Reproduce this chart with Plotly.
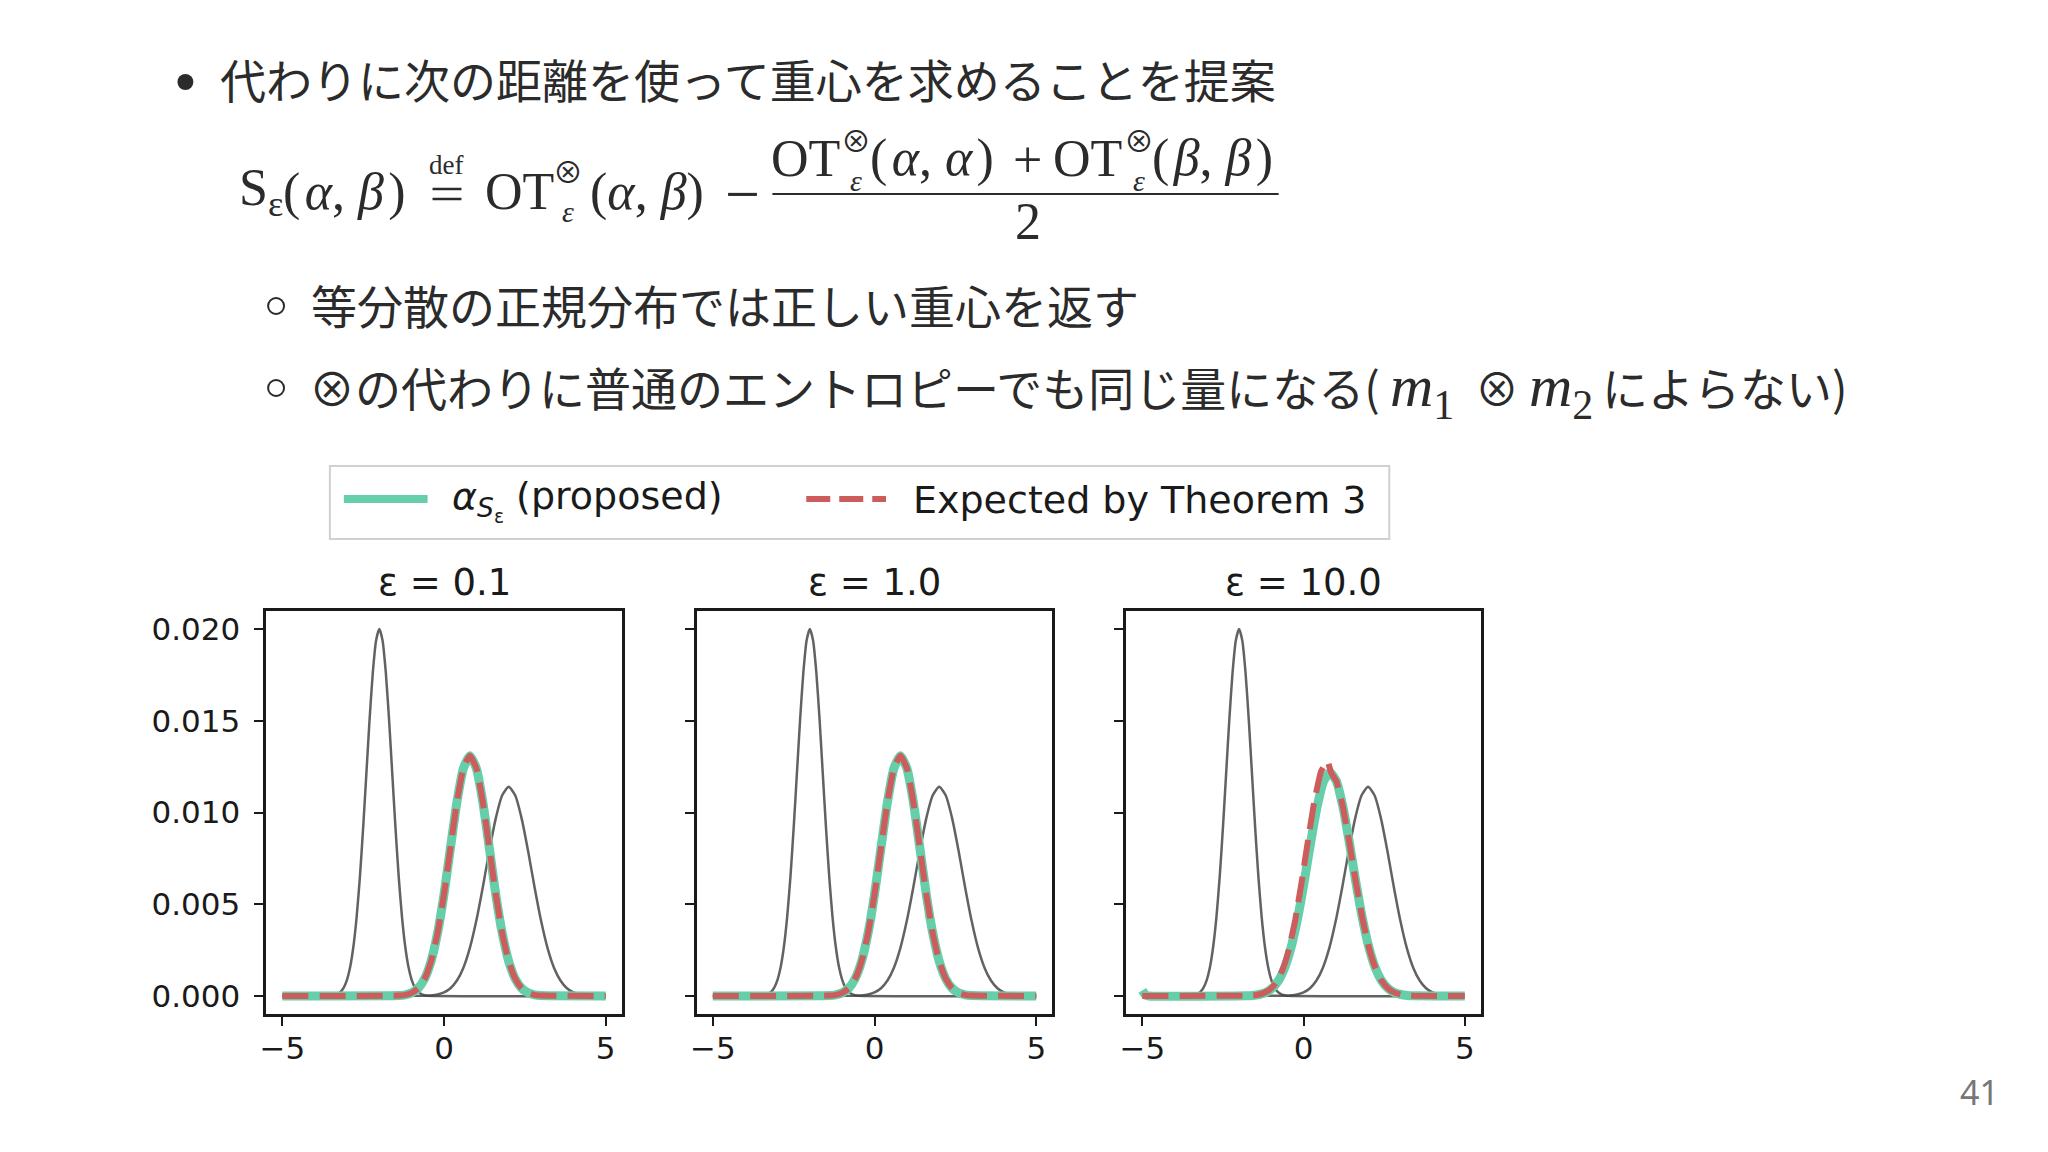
import plotly.graph_objects as go

W, H = 2048, 1152

# ---------------- data ----------------
panel_titles = ["ε = 0.1", "ε = 1.0", "ε = 10.0"]
x_ticks = [-5, 0, 5]
x_tick_text = ["−5", "0", "5"]
y_ticks = [0.0, 0.005, 0.010, 0.015, 0.020]
y_tick_text = ["0.000", "0.005", "0.010", "0.015", "0.020"]

# input measure alpha (narrow peak near -2)
alpha_x = [-5.0, -3.5, -3.4, -3.3, -3.2, -3.1, -3.0, -2.9, -2.8, -2.7, -2.6, -2.5, -2.4, -2.3, -2.2, -2.1,
           -2.0, -1.9, -1.8, -1.7, -1.6, -1.5, -1.4, -1.3, -1.2, -1.1, -1.0, -0.9, -0.8, -0.7, -0.6, -0.5, 5.0]
alpha_y = [0.0, 0.00001, 0.00004, 0.00010, 0.00022, 0.00046, 0.00088, 0.00159, 0.00271, 0.00433, 0.00649,
           0.00916, 0.01213, 0.01510, 0.01765, 0.01938, 0.02000, 0.01938, 0.01765, 0.01510, 0.01213, 0.00916,
           0.00649, 0.00433, 0.00271, 0.00159, 0.00088, 0.00046, 0.00022, 0.00010, 0.00004, 0.00001, 0.0]

# input measure beta (wider peak near 2)
beta_x = [-5.0, -0.6, -0.4, -0.2, 0.0, 0.2, 0.4, 0.6, 0.8, 1.0, 1.2, 1.4, 1.6, 1.8, 2.0, 2.2, 2.4, 2.6, 2.8,
          3.0, 3.2, 3.4, 3.6, 3.8, 4.0, 4.2, 4.4, 4.6, 5.0]
beta_y = [0.0, 0.00001, 0.00003, 0.00008, 0.00019, 0.00042, 0.00084, 0.00154, 0.00262, 0.00411, 0.00593,
          0.00790, 0.00968, 0.01094, 0.01140, 0.01094, 0.00968, 0.00790, 0.00593, 0.00411, 0.00262, 0.00154,
          0.00084, 0.00042, 0.00019, 0.00008, 0.00003, 0.00001, 0.0]

# barycenters, eps = 0.1 and eps = 1.0 (proposed and expected coincide)
bary_x = [-5.0, -1.4, -1.2, -1.0, -0.8, -0.6, -0.4, -0.2, 0.0, 0.2, 0.4, 0.6, 0.8, 1.0, 1.2, 1.4, 1.6, 1.8,
          2.0, 2.2, 2.4, 2.6, 2.8, 3.0, 5.0]
bary_y = [0.0, 0.00002, 0.00006, 0.00017, 0.00042, 0.00094, 0.00189, 0.00342, 0.00554, 0.00808, 0.01057,
          0.01241, 0.01310, 0.01241, 0.01057, 0.00808, 0.00554, 0.00342, 0.00189, 0.00094, 0.00042, 0.00017,
          0.00006, 0.00002, 0.0]

prop01_x, prop01_y = bary_x, bary_y
exp01_x, exp01_y = bary_x, bary_y
prop1_x, prop1_y = bary_x, bary_y
exp1_x, exp1_y = bary_x, bary_y

# eps = 10.0
prop10_x = [-5.0, -4.9, -4.8, -1.78, -1.58, -1.38, -1.18, -0.98, -0.78, -0.58, -0.38, -0.18, 0.02, 0.22,
            0.42, 0.62, 0.82, 1.02, 1.22, 1.42, 1.62, 1.82, 2.02, 2.22, 2.42, 2.62, 2.82, 3.02, 3.22, 3.42, 5.0]
prop10_y = [0.0003, 0.00005, 0.0, 0.00001, 0.00003, 0.00008, 0.00018, 0.00041, 0.00083, 0.00156, 0.00269,
            0.00427, 0.00623, 0.00836, 0.01031, 0.01170, 0.01220, 0.01170, 0.01031, 0.00836, 0.00623, 0.00427,
            0.00269, 0.00156, 0.00083, 0.00041, 0.00018, 0.00008, 0.00003, 0.00001, 0.0]
exp10_x = [-5.0, -1.66, -1.46, -1.26, -1.06, -0.86, -0.66, -0.46, -0.26, -0.06, 0.14, 0.34, 0.54, 0.74,
           0.86, 1.02, 1.22, 1.42, 1.62, 1.82, 2.02, 2.22, 2.42, 2.62, 2.82, 3.02, 3.22, 3.42, 5.0]
exp10_y = [0.0, 0.00002, 0.00005, 0.00014, 0.00033, 0.00070, 0.00139, 0.00250, 0.00412, 0.00620, 0.00851,
           0.01068, 0.01223, 0.01280, 0.01215, 0.01170, 0.01031, 0.00836, 0.00623, 0.00427, 0.00269, 0.00156,
           0.00083, 0.00041, 0.00018, 0.00008, 0.00003, 0.00001, 0.0]

proposed = [(prop01_x, prop01_y), (prop1_x, prop1_y), (prop10_x, prop10_y)]
expected = [(exp01_x, exp01_y), (exp1_x, exp1_y), (exp10_x, exp10_y)]

# ---------------- style ----------------
GREEN = "#66CFAA"
RED = "#CD5C5C"
GRAY = "rgba(70,70,70,0.85)"
TEXT = "#2b2b2b"
JP = "Noto Sans CJK JP"
SERIF = "Liberation Serif"
MPL = "DejaVu Sans"

def px(x):
    return x / W

def py(y):
    return 1 - y / H

fig = go.Figure()

panel_px = [(260, 617), (692, 1049), (1123, 1479)]
y_dom = [py(1014.3), py(610.7)]

for i in range(3):
    xa = "x" if i == 0 else f"x{i+1}"
    ya = "y" if i == 0 else f"y{i+1}"
    common = dict(xaxis=xa, yaxis=ya, mode="lines", showlegend=False, hoverinfo="skip")
    fig.add_trace(go.Scatter(x=alpha_x, y=alpha_y, line=dict(color=GRAY, width=2.5, shape="spline", smoothing=0.6), **common))
    fig.add_trace(go.Scatter(x=beta_x, y=beta_y, line=dict(color=GRAY, width=2.5, shape="spline", smoothing=0.6), **common))
    gx, gy = proposed[i]
    fig.add_trace(go.Scatter(x=gx, y=gy, line=dict(color=GREEN, width=9, shape="spline", smoothing=0.5), **common))
    ex, ey = expected[i]
    fig.add_trace(go.Scatter(x=ex, y=ey, line=dict(color=RED, width=6, dash="26px,11px", shape="spline",
                                                   smoothing=0.5 if i < 2 else 0.3), **common))

    x0, x1 = panel_px[i]
    axis_common = dict(showline=True, linecolor="#1a1a1a", linewidth=2.5, mirror=True, showgrid=False,
                       zeroline=False, ticks="outside", ticklen=9, tickwidth=2, tickcolor="#1a1a1a",
                       tickfont=dict(family=MPL, size=31, color="#1a1a1a"))
    fig.update_layout(**{
        ("xaxis" if i == 0 else f"xaxis{i+1}"): dict(domain=[px(x0), px(x1)], range=[-5.5, 5.5], anchor=ya,
                                                    tickvals=x_ticks, ticktext=x_tick_text,
                                                    ticklabelstandoff=-4, **axis_common),
        ("yaxis" if i == 0 else f"yaxis{i+1}"): dict(domain=y_dom, range=[-0.001, 0.021], anchor=xa,
                                                    tickvals=y_ticks, ticktext=y_tick_text,
                                                    showticklabels=(i == 0), ticklabelstandoff=8, **axis_common),
    })

annotations = []
shapes = []

def txt(x, y, s, size, family, anchor="left", color=TEXT):
    annotations.append(dict(x=px(x), y=py(y), xref="paper", yref="paper", text=s, showarrow=False,
                            xanchor=anchor, yanchor="middle", font=dict(size=size, family=family, color=color)))

def hline(x0, x1, y, width, color=TEXT, dash=None):
    ln = dict(color=color, width=width)
    if dash:
        ln["dash"] = dash
    shapes.append(dict(type="line", xref="paper", yref="paper", x0=px(x0), x1=px(x1), y0=py(y), y1=py(y), line=ln))

# panel titles
for i in range(3):
    x0, x1 = panel_px[i]
    txt((x0 + x1) / 2, 582, panel_titles[i], 37, MPL, anchor="center", color="#1a1a1a")

# bullets
shapes.append(dict(type="circle", xref="paper", yref="paper", x0=px(171), x1=px(187), y0=py(90), y1=py(74),
                   fillcolor=TEXT, line=dict(width=0)))
for cy in (306, 388):
    shapes.append(dict(type="circle", xref="paper", yref="paper", x0=px(262), x1=px(278), y0=py(cy + 8),
                       y1=py(cy - 8), line=dict(color=TEXT, width=2)))

txt(212, 78, "代わりに次の距離を使って重心を求めることを提案", 46, JP)
txt(303, 304, "等分散の正規分布では正しい重心を返す", 46, JP)
txt(301, 386, "⊗の代わりに普通のエントロピーでも同じ量になる(", 46, JP)
txt(1386, 390, "<i>m</i><sub>1</sub>", 60, SERIF)
txt(1495, 387, "⊗", 44, JP, anchor="center")
txt(1525, 390, "<i>m</i><sub>2</sub>", 60, SERIF)
txt(1598, 386, "によらない)", 46, JP)

# formula
FS = 52
HS = "\u200a"
STACK = f"<span style='font-family:{JP}'>⊗</span><br><i>ε</i>"
txt(231, 192, "S<sub>ε</sub>", FS, SERIF)
txt(275, 192, f"({HS}<i>α</i>, <i>β</i>{HS})", FS, SERIF)
txt(441, 165, "def", 27, SERIF, anchor="center")
hline(427, 456, 189, 2.5)
hline(427, 456, 199, 2.5)
txt(478, 192, "OT", FS, SERIF)
txt(563, 188, STACK, 30, SERIF, anchor="center")
txt(583, 192, "(<i>α</i>, <i>β</i>)", FS, SERIF)
txt(738, 194, "−", 62, SERIF, anchor="center")
txt(765, 158, "OT", FS, SERIF)
txt(852, 157, STACK, 30, SERIF, anchor="center")
txt(864, 158, f"({HS}<i>α</i>, <i>α</i>{HS})", FS, SERIF)
txt(1024, 160, "+", FS, SERIF, anchor="center")
txt(1048, 158, "OT", FS, SERIF)
txt(1136, 157, STACK, 30, SERIF, anchor="center")
txt(1147, 158, f"({HS}<i>β</i>, <i>β</i>{HS})", FS, SERIF)
hline(768, 1276, 194, 2)
txt(1025, 221, "2", FS, SERIF, anchor="center")

# legend (drawn by hand to match the reference box)
shapes.append(dict(type="rect", xref="paper", yref="paper", x0=px(324), x1=px(1387), y0=py(539), y1=py(466),
                   line=dict(color="#d0d0d0", width=2), fillcolor="rgba(255,255,255,0.9)"))
hline(338, 422, 499, 8, color=GREEN)
hline(802, 882, 499, 6, color=RED, dash="24px,9px")
txt(445, 500, "<i>α</i><sub><i>S</i><sub>ε</sub></sub> (proposed)", 38, MPL, color="#1a1a1a")
txt(907, 500, "Expected by Theorem 3", 38, MPL, color="#1a1a1a")

# page number
txt(1979, 1092, "41", 34, "Noto Sans", anchor="center", color="#777777")

fig.update_layout(width=W, height=H, margin=dict(l=0, r=0, t=0, b=0), paper_bgcolor="white",
                  plot_bgcolor="white", annotations=annotations, shapes=shapes)

fig.write_html("out.html", config={"displayModeBar": False},
               post_script="document.body.style.margin='0';document.body.style.overflow='hidden';")
